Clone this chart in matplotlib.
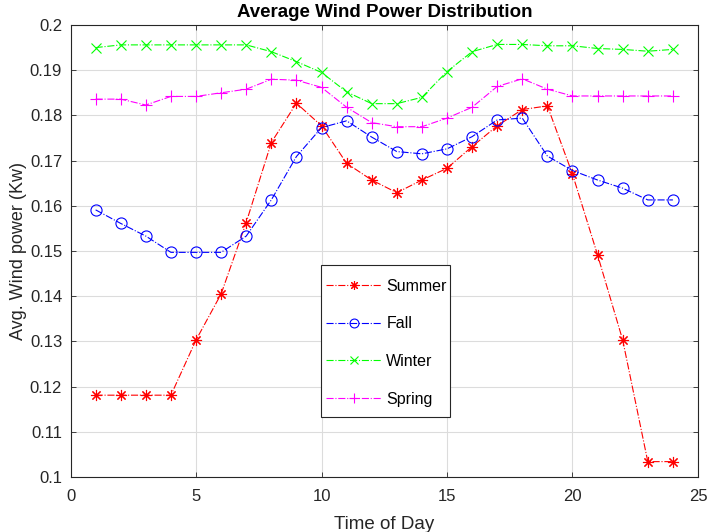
import matplotlib
matplotlib.use('Agg')
import matplotlib.pyplot as plt
from matplotlib.patches import Rectangle

hours = list(range(1, 25))

summer = [0.1181, 0.1181, 0.1181, 0.1181, 0.1303, 0.1405, 0.1563, 0.1740,
          0.1827, 0.1777, 0.1694, 0.1657, 0.1629, 0.1657, 0.1683, 0.1731,
          0.1777, 0.1813, 0.1821, 0.1670, 0.1491, 0.1303, 0.1034, 0.1034]
fall = [0.1591, 0.1561, 0.1533, 0.1497, 0.1497, 0.1497, 0.1533, 0.1613,
        0.1709, 0.1773, 0.1788, 0.1752, 0.1720, 0.1715, 0.1726, 0.1753,
        0.1790, 0.1794, 0.1710, 0.1678, 0.1657, 0.1639, 0.1613, 0.1613]
winter = [0.1950, 0.1956, 0.1956, 0.1956, 0.1956, 0.1956, 0.1956, 0.1941,
          0.1919, 0.1895, 0.1852, 0.1826, 0.1826, 0.1840, 0.1897, 0.1941,
          0.1957, 0.1957, 0.1954, 0.1954, 0.1948, 0.1946, 0.1942, 0.1946]
spring = [0.1836, 0.1836, 0.1823, 0.1842, 0.1842, 0.1850, 0.1858, 0.1880,
          0.1878, 0.1862, 0.1818, 0.1784, 0.1775, 0.1775, 0.1794, 0.1818,
          0.1864, 0.1881, 0.1858, 0.1843, 0.1843, 0.1843, 0.1843, 0.1843]

plt.rcParams['font.family'] = ['Liberation Sans', 'DejaVu Sans']

fig = plt.figure(figsize=(7.11, 5.32), dpi=100)
ax = fig.add_axes([0.0992, 0.1034, 0.8825, 0.8496])

lw = 0.8
ax.plot(hours, summer, color='#ff0000', linestyle='-.', linewidth=lw,
        marker=(8, 2, 0), markersize=8, markeredgewidth=0.8, label='Summer')
ax.plot(hours, fall, color='#0000ff', linestyle='-.', linewidth=lw,
        marker='o', markersize=8, markerfacecolor='none',
        markeredgewidth=0.8, label='Fall')
ax.plot(hours, winter, color='#00ff00', linestyle='-.', linewidth=lw,
        marker='x', markersize=6.5, markeredgewidth=0.8, label='Winter')
ax.plot(hours, spring, color='#ff00ff', linestyle='-.', linewidth=lw,
        marker='+', markersize=9, markeredgewidth=0.8, label='Spring')

ax.set_xlim(0, 25)
ax.set_ylim(0.1, 0.2)
ax.set_xticks([0, 5, 10, 15, 20, 25])
ax.set_yticks([0.1 + 0.01 * i for i in range(11)])
ax.set_yticklabels(['0.1', '0.11', '0.12', '0.13', '0.14', '0.15',
                    '0.16', '0.17', '0.18', '0.19', '0.2'])

ax.grid(True, color='#dcdcdc', linewidth=0.8)
ax.set_axisbelow(True)
ax.tick_params(direction='in', top=True, right=True, labelsize=12,
               colors='#262626', length=3.6, width=0.6, pad=6)
ax.tick_params(axis='x', pad=8.5)
for s in ax.spines.values():
    s.set_color('#262626')
    s.set_linewidth(0.8)

ax.set_title('Average Wind Power Distribution', fontsize=13.5,
             fontweight='bold', pad=6)
ax.set_xlabel('Time of Day', fontsize=13.5, color='#262626', labelpad=9)
ax.set_ylabel('Avg. Wind power (Kw)', fontsize=13, color='#262626',
              labelpad=2)

# legend frame drawn separately so the padding can match
ax.add_patch(Rectangle((0.399, 0.133), 0.206, 0.336, transform=ax.transAxes,
                       facecolor='white', edgecolor='#262626',
                       linewidth=0.8, zorder=4))
leg = ax.legend(loc='center left', bbox_to_anchor=(0.4065, 0.2971),
                fontsize=11.5, frameon=False, markerscale=0.8,
                handlelength=3.5, labelspacing=1.42, borderpad=0,
                borderaxespad=0, handletextpad=0.3)
leg.set_zorder(5)

fig.savefig('out.png', dpi=100)
